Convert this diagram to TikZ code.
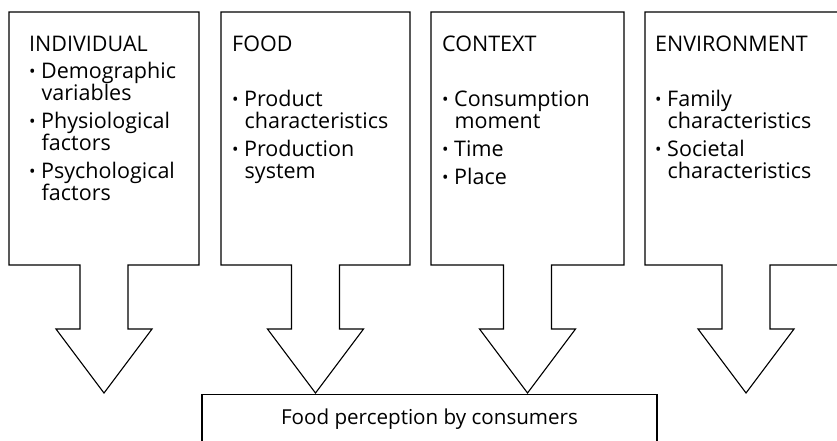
\documentclass[tikz,border=0pt]{standalone}
\usepackage{fontspec}
\setmainfont{Open Sans}
% bullet and continuation indent for the factor lists
\newcommand\bl{\makebox[12pt][l]{\raisebox{0.5pt}{\scalebox{0.8}{•}}}}
\newcommand\cn{\hspace*{12.5pt}}
\begin{document}
\begin{tikzpicture}[x=1pt,y=-1pt,
  outline/.style={draw=black, line width=1.1pt, line join=miter},
  boxtext/.style={anchor=north west, align=left, inner sep=0pt,
    font=\fontsize{21.5}{22}\selectfont},
  sinkbox/.style={draw=black, line width=1.1pt, minimum width=455pt,
    minimum height=50pt, inner sep=0pt, font=\fontsize{20.6}{22}\selectfont}]
\useasboundingbox (0,0) rectangle (837,440);
\clip (0,0) rectangle (837,440);

% factor box merged with its downward block arrow:
% #1 left edge, #2 right edge, #3 arrow axis, #4 tip name
\newcommand\factorarrow[4]{%
  \coordinate (#4) at (#3,393);
  \draw[outline] (#1,12) -- (#2,12) -- (#2,265) -- (#3+24,265) -- (#3+24,329)
    -- (#3+48,329) -- (#4) -- (#3-48,329) -- (#3-24,329) -- (#3-24,265)
    -- (#1,265) -- cycle;}

\factorarrow{9}{199}{104}{tipind}
\factorarrow{221}{410}{315.5}{tipfood}
\factorarrow{431}{624}{527.5}{tipctx}
\factorarrow{645}{847}{746}{tipenv}

\node[boxtext] (ind) at (29,35.5) {INDIVIDUAL\\[5pt]
  \bl Demographic\\ \cn variables\\[6pt]
  \bl Physiological\\ \cn factors\\[6pt]
  \bl Psychological\\ \cn factors};

\node[boxtext] (food) at (232,35.5) {FOOD\\[33pt]
  \bl Product\\ \cn characteristics\\[6pt]
  \bl Production\\ \cn system};

\node[boxtext] (ctx) at (442,35.5) {CONTEXT\\[33pt]
  \bl Consumption\\ \cn moment\\[6pt]
  \bl Time\\[6pt]
  \bl Place};

\node[boxtext] (env) at (655,35.5) {ENVIRONMENT\\[33pt]
  \bl Family\\ \cn characteristics\\[6pt]
  \bl Societal\\ \cn characteristics};

\node[sinkbox, anchor=north] (perc) at (429.5,394) {Food perception by consumers};
\end{tikzpicture}
\end{document}
